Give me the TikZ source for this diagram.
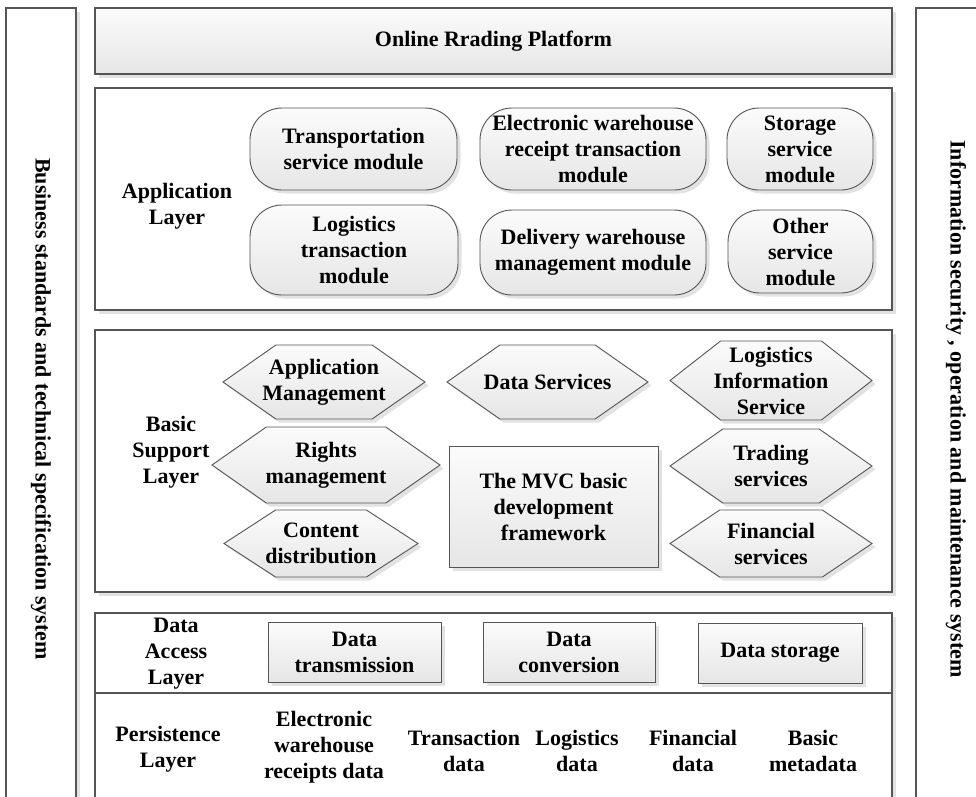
\documentclass[tikz,border=0pt]{standalone}
\usepackage{fontspec}
\setmainfont{Liberation Serif}
\usepackage{tikz}
\usetikzlibrary{shapes.misc,shapes.symbols,shadows}
\definecolor{INK}{HTML}{000000}
\definecolor{EDGE}{HTML}{555555}
\definecolor{SHADE}{HTML}{E2E2E2}
\definecolor{TOPG}{HTML}{FBFBFB}
\definecolor{BOTG}{HTML}{E6E6E6}

\begin{document}
\begin{tikzpicture}[
  x=1pt, y=-1pt,
  font=\bfseries\fontsize{22}{26}\selectfont,
  every node/.style={inner sep=0pt, align=center, text=INK},
  shade/.style={drop shadow={shadow xshift=3.5pt, shadow yshift=-3.5pt,
    fill=SHADE, opacity=1}},
  layer/.style={rectangle, draw=EDGE, line width=1.2pt, fill=white, shade,
    minimum width=797},
  side/.style={rectangle, draw=EDGE, line width=1.2pt, fill=white, shade,
    minimum height=802},
  module/.style={rectangle, rounded corners=32pt, draw=EDGE, line width=0.9pt,
    top color=TOPG, bottom color=BOTG, shade},
  svc/.style={signal, signal to=west and east, signal pointer angle=70,
    inner xsep=-40pt, draw=EDGE, line width=0.9pt, top color=TOPG,
    bottom color=BOTG, shade},
  block/.style={rectangle, draw=EDGE, line width=0.9pt, top color=TOPG,
    bottom color=BOTG, shade},
]
\useasboundingbox (0,0) rectangle (976,796);
\clip (0,0) rectangle (976,796);

% ---- side bars ------------------------------------------------------------
\node[side, minimum width=70] (biz) at (41,409)
  {\rotatebox{-90}{Business standards and technical specification system}};
\node[side, minimum width=80] (sec) at (956,409)
  {\rotatebox{-90}{Information security , operation and maintenance system}};

% ---- platform -------------------------------------------------------------
\node[layer, top color=TOPG, bottom color=BOTG, minimum height=66] (plat)
  at (493.5,41) {Online Rrading Platform};

% ---- application layer ----------------------------------------------------
\node[layer, minimum height=222] (app) at (493.5,199) {};
\node (applbl) at (177,206) {Application\\Layer};
\node[module, minimum width=207, minimum height=82] (trans) at (353.5,149)
  {Transportation\\service module};
\node[module, minimum width=208, minimum height=90] (logtx) at (354,250)
  {Logistics\\transaction\\module};
\node[module, minimum width=226, minimum height=82] (ewr) at (593,149)
  {Electronic warehouse\\receipt transaction\\module};
\node[module, minimum width=226, minimum height=85] (deliv) at (593,252.5)
  {Delivery warehouse\\management module};
\node[module, minimum width=146, minimum height=82] (store) at (800,149)
  {Storage\\service\\module};
\node[module, minimum width=145, minimum height=83] (other) at (800.5,251.5)
  {Other\\service\\module};

% ---- basic support layer --------------------------------------------------
\node[layer, minimum height=262] (sup) at (493.5,461) {};
\node (suplbl) at (171,452) {Basic\\Support\\Layer};
\node[svc, minimum width=202, minimum height=74] (appm) at (324,382)
  {Application\\Management};
\node[svc, minimum width=228, minimum height=76] (rights) at (326,465)
  {Rights\\management};
\node[svc, minimum width=194, minimum height=67, signal pointer angle=66]
  (content) at (321,543.5) {Content\\distribution};
\node[svc, minimum width=201, minimum height=74] (datas) at (547.5,382)
  {Data Services};
\node[block, minimum width=209, minimum height=121] (mvc) at (553.5,506.5)
  {The MVC basic\\development\\framework};
\node[svc, minimum width=202, minimum height=79, signal pointer angle=76]
  (logis) at (771,380.5) {Logistics\\Information\\Service};
\node[svc, minimum width=202, minimum height=74] (trade) at (771,466)
  {Trading\\services};
\node[svc, minimum width=202, minimum height=67, signal pointer angle=68]
  (fin) at (771,543.5) {Financial\\services};

% ---- data access layer ----------------------------------------------------
\node[layer, minimum height=80] (acc) at (493.5,653) {};
\node (acclbl) at (176,654) {Data\\Access\\Layer};
\node[block, minimum width=173, minimum height=60] (trm) at (354.5,652)
  {Data\\transmission};
\node[block, minimum width=172, minimum height=60] (conv) at (569,652)
  {Data\\conversion};
\node[block, minimum width=164, minimum height=60] (stor) at (780,653)
  {Data storage};

% ---- persistence layer ----------------------------------------------------
\node[layer, minimum height=117] (per) at (493.5,751.5) {};
\node (perlbl) at (168,749.5) {Persistence\\Layer};
\node (ewrd) at (324,747) {Electronic\\warehouse\\receipts data};
\node (txd) at (464,751) {Transaction\\data};
\node (logd) at (577,751) {Logistics\\data};
\node (find) at (693,751) {Financial\\data};
\node (meta) at (813,751) {Basic\\metadata};

\end{tikzpicture}
\end{document}
